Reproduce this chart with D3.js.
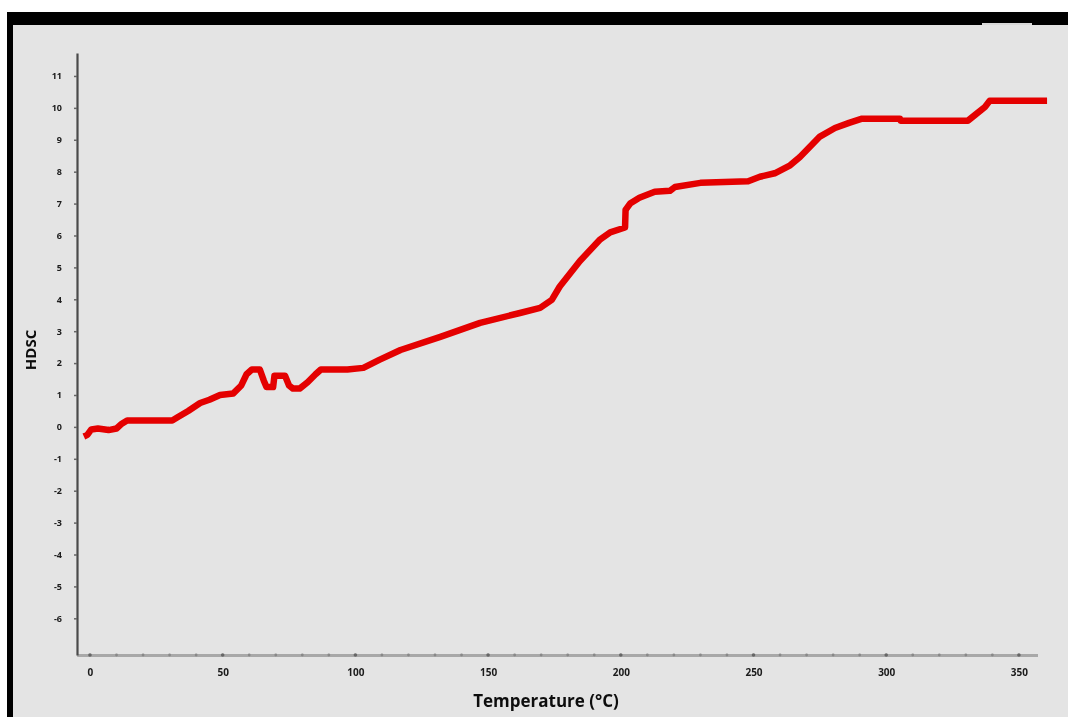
<!DOCTYPE html>
<html>
<head>
<meta charset="utf-8">
<script src="https://cdn.jsdelivr.net/npm/d3@7"></script>
<style>
  html, body { margin: 0; padding: 0; background: #ffffff; }
  svg { display: block; }
</style>
</head>
<body>
<svg id="chart" width="1068" height="717"></svg>
<script>
// DSC trace: heat-flow signal versus temperature
const temperature = [-2.3, -1, 0.5, 3, 7, 10, 12, 14, 31, 33, 37, 41.5, 45, 49, 54, 57, 59, 61, 64, 65.5,
  66.5, 69, 69.5, 73.5, 75, 76.5, 79, 82, 85, 87, 97, 103, 109, 117, 132, 147, 162, 169.6, 174, 177,
  184.6, 192, 196, 201.6, 201.8, 203.5, 207, 212.8, 218.5, 220.4, 230, 248, 252.4, 258, 263.8, 267.5,
  275, 280.7, 286, 290.9, 305.2, 305.4, 330.8, 333.5, 337.2, 339, 360.6];
const hdsc = [-0.3, -0.25, -0.08, -0.05, -0.1, -0.05, 0.1, 0.2, 0.2, 0.3, 0.5, 0.75, 0.85, 1.0, 1.05, 1.3,
  1.65, 1.8, 1.8, 1.45, 1.25, 1.25, 1.6, 1.6, 1.3, 1.2, 1.2, 1.4, 1.65, 1.8, 1.8, 1.85, 2.1, 2.41, 2.82,
  3.26, 3.57, 3.73, 3.98, 4.4, 5.2, 5.86, 6.1, 6.25, 6.8, 7.0, 7.18, 7.37, 7.4, 7.52, 7.65, 7.7, 7.84,
  7.95, 8.2, 8.46, 9.1, 9.37, 9.53, 9.66, 9.66, 9.6, 9.6, 9.78, 10.03, 10.22, 10.22];

const xMajorTicks = [0, 50, 100, 150, 200, 250, 300, 350];
const xMinorTicks = d3.range(0, 351, 10);
const yTicks = d3.range(-6, 12, 1);

const xTitle = "Temperature (°C)";
const yTitle = "HDSC";

const svg = d3.select("#chart");

// frame: dark border along top and left, grey panel
svg.append("rect").attr("x", 7).attr("y", 12).attr("width", 1061).attr("height", 705).attr("fill", "#000");
svg.append("rect").attr("x", 13).attr("y", 25).attr("width", 1055).attr("height", 692).attr("fill", "#e4e4e4");
svg.append("rect").attr("x", 982).attr("y", 23).attr("width", 50).attr("height", 2).attr("fill", "#d8d8d8");

const defs = svg.append("defs");
defs.append("filter").attr("id", "soft")
  .append("feGaussianBlur").attr("stdDeviation", 0.55);

const x = d3.scaleLinear().domain([-5, 357]).range([76.7, 1037.5]);
const y = d3.scaleLinear().domain([-7.15, 11.72]).range([655, 53]);

// x axis: light grey bar with dotted ticks
const xAxis = svg.append("g")
  .attr("transform", "translate(0,655)")
  .call(d3.axisBottom(x).tickValues(xMajorTicks).tickSize(0).tickPadding(14).tickSizeOuter(0));
xAxis.select(".domain").attr("stroke", "#a8a8a8").attr("stroke-width", 3);
xAxis.selectAll(".tick text")
  .attr("font-family", "Open Sans, sans-serif").attr("font-weight", 700)
  .attr("font-size", 10).attr("fill", "#1a1a1a").attr("filter", "url(#soft)");

svg.append("g").selectAll("circle")
  .data(xMinorTicks)
  .join("circle")
  .attr("cx", d => x(d))
  .attr("cy", 655)
  .attr("r", d => d % 50 === 0 ? 1.8 : 1.4)
  .attr("fill", d => d % 50 === 0 ? "#666" : "#888");

// y axis: dark line with short ticks
const yAxis = svg.append("g")
  .attr("transform", "translate(77,0)")
  .call(d3.axisLeft(y).tickValues(yTicks).tickSize(3).tickPadding(12).tickSizeOuter(0)
    .tickFormat(d => String(d)));
yAxis.select(".domain").attr("stroke", "#4a4a4a").attr("stroke-width", 2.2);
yAxis.selectAll(".tick line").attr("stroke", "#666").attr("stroke-width", 1.5);
yAxis.selectAll(".tick text")
  .attr("font-family", "Open Sans, sans-serif").attr("font-weight", 700)
  .attr("font-size", 9).attr("fill", "#1a1a1a").attr("filter", "url(#soft)");

// curve
const line = d3.line()
  .x((d, i) => x(temperature[i]))
  .y(d => y(d));

svg.append("path")
  .datum(hdsc)
  .attr("fill", "none")
  .attr("stroke", "#e40000")
  .attr("stroke-width", 6.5)
  .attr("stroke-linejoin", "round")
  .attr("stroke-linecap", "butt")
  .attr("d", line);

// axis titles
svg.append("text")
  .attr("x", 546).attr("y", 707)
  .attr("text-anchor", "middle")
  .attr("font-family", "Open Sans, sans-serif").attr("font-weight", 700)
  .attr("font-size", 17).attr("fill", "#111").attr("filter", "url(#soft)")
  .text(xTitle);

svg.append("text")
  .attr("transform", "translate(36,350) rotate(-90)")
  .attr("text-anchor", "middle")
  .attr("font-family", "Open Sans, sans-serif").attr("font-weight", 700)
  .attr("font-size", 15).attr("fill", "#111").attr("filter", "url(#soft)")
  .text(yTitle);
</script>
</body>
</html>
